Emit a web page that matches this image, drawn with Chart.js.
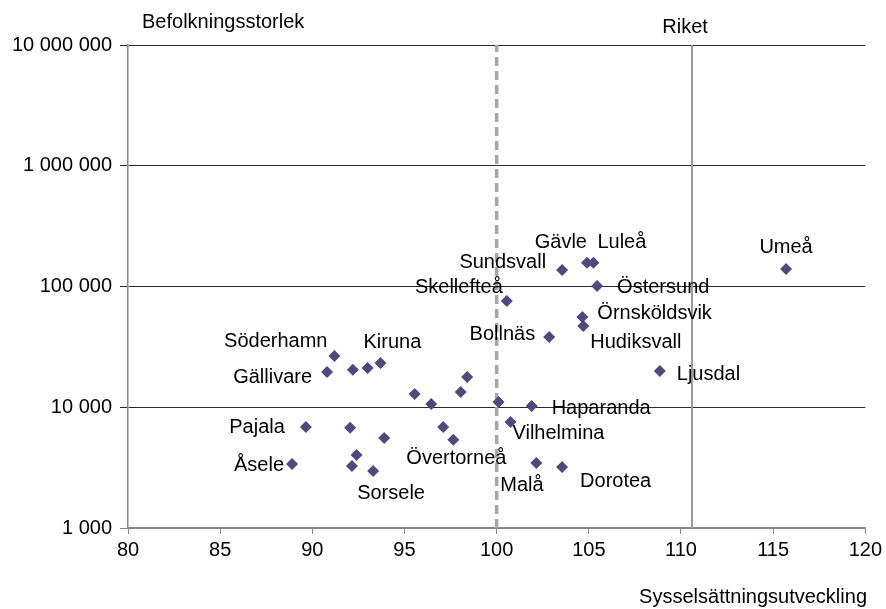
<!DOCTYPE html>
<html>
<head>
<meta charset="utf-8">
<script src="https://cdn.jsdelivr.net/npm/chart.js@4"></script>
<style>
  html, body { margin: 0; padding: 0; background: #fff; }
  #c { display: block; }
</style>
</head>
<body>
<canvas id="c" width="886" height="609"></canvas>
<script>
/* ── Data: employment development (x) vs population (y) ── */
const towns = ['Umeå', 'Sundsvall', 'Gävle', 'Luleå', 'Östersund', 'Skellefteå', 'Örnsköldsvik', 'Hudiksvall',
  'Bollnäs', 'Ljusdal', 'Söderhamn', 'Gällivare', '', '', 'Kiruna', '', '', '', '', '', 'Haparanda', 'Vilhelmina',
  'Pajala', '', '', '', 'Övertorneå', 'Åsele', '', '', 'Sorsele', 'Malå', 'Dorotea'];
const jobGrowth = [115.7, 103.55, 104.9, 105.25, 105.45, 100.55, 104.65, 104.7, 102.85, 108.85, 91.2, 90.8, 92.2, 93.0,
  93.7, 95.55, 96.45, 98.4, 98.05, 100.1, 101.9, 100.75, 89.65, 92.05, 93.9, 97.1, 97.65, 88.9, 92.4, 92.15, 93.3,
  102.15, 103.55];
const population = [139600, 137000, 157000, 157000, 101000, 76000, 55900, 47100, 38200, 19950, 26560, 19600, 20400,
  21100, 23200, 12860, 10640, 17800, 13370, 11050, 10240, 7550, 6870, 6760, 5560, 6870, 5370, 3390, 4030, 3260, 2960,
  3450, 3200];

const yTicks = [1000, 10000, 100000, 1000000, 10000000];
const xMin = 80, xMax = 120, xStep = 5;
const refX = 100;      // dashed reference line
const riketX = 110.6;  // national average

/* label placement: [point index, dx, dy, align] */
const labelPos = [
  [0, 0, -22, 'center'], [1, -16, -8, 'right'], [2, 0, -20, 'right'], [3, 4, -20, 'left'],
  [4, 20, 2, 'left'], [5, -4, -13, 'right'], [6, 15, -4, 'left'], [7, 7, 17, 'left'],
  [8, -14, -2, 'right'], [9, 17, 3, 'left'], [10, -7, -15, 'right'], [11, -15, 6, 'right'],
  [14, -17, -21, 'left'], [20, 20, 2, 'left'], [21, 2, 11, 'left'], [22, -21, 1, 'right'],
  [26, -47, 19, 'left'], [27, -8, 2, 'right'], [30, -16, 22, 'left'], [31, -36, 22, 'left'],
  [32, 18, 14, 'left'],
];

const FONT = 'Arial, "Liberation Sans", sans-serif';
Chart.defaults.font.family = FONT;
Chart.defaults.font.size = 20;
Chart.defaults.color = '#000';

const fmt = v => String(v).replace(/\B(?=(\d{3})+(?!\d))/g, ' ');

/* ── Text overlay: axis captions + point labels ── */
const textPlugin = {
  id: 'texts',
  afterDatasetsDraw(chart) {
    const ctx = chart.ctx;
    const xs = chart.scales.x;
    ctx.save();
    ctx.fillStyle = '#000';
    ctx.font = '20px ' + FONT;
    ctx.textBaseline = 'middle';

    ctx.textAlign = 'left';
    ctx.fillText('Befolkningsstorlek', 142, 22);
    ctx.textAlign = 'center';
    ctx.fillText('Riket', xs.getPixelForValue(riketX) - 7, 27);
    ctx.textAlign = 'right';
    ctx.fillText('Sysselsättningsutveckling', 867, 597);

    const pts = chart.getDatasetMeta(0).data;
    labelPos.forEach(([i, dx, dy, align]) => {
      ctx.textAlign = align;
      ctx.fillText(towns[i], pts[i].x + dx, pts[i].y + dy);
    });
    ctx.restore();
  }
};

new Chart(document.getElementById('c'), {
  type: 'scatter',
  data: {
    datasets: [
      {
        label: 'Kommuner',
        data: jobGrowth.map((x, i) => ({ x, y: population[i] })),
        pointStyle: 'rectRot',
        pointRadius: 6,
        pointHoverRadius: 6,
        backgroundColor: '#4E4A7E',
        borderColor: '#4E4A7E',
        borderWidth: 0,
        order: 0,
      },
      {
        label: 'ref',
        type: 'line',
        data: [{ x: refX, y: yTicks[0] }, { x: refX, y: yTicks[yTicks.length - 1] }],
        borderColor: '#a6a6a6',
        borderWidth: 3.5,
        borderDash: [9, 5],
        pointRadius: 0,
        order: 2,
      },
      {
        label: 'Riket',
        type: 'line',
        data: [{ x: riketX, y: yTicks[0] }, { x: riketX, y: yTicks[yTicks.length - 1] }],
        borderColor: '#999',
        borderWidth: 2,
        pointRadius: 0,
        order: 2,
      },
    ]
  },
  options: {
    responsive: false,
    animation: false,
    layout: { autoPadding: false, padding: { top: 45, right: 20, left: 0, bottom: 0 } },
    plugins: { legend: { display: false }, tooltip: { enabled: false } },
    scales: {
      x: {
        type: 'linear',
        min: xMin, max: xMax,
        ticks: { stepSize: xStep, padding: 4, maxRotation: 0 },
        grid: { drawOnChartArea: false, tickLength: 6, color: '#888' },
        border: { color: '#888', width: 1.5 },
        afterFit: s => { s.height = 81; },
      },
      y: {
        type: 'logarithmic',
        min: yTicks[0], max: yTicks[yTicks.length - 1],
        afterBuildTicks: s => { s.ticks = yTicks.map(v => ({ value: v })); },
        ticks: { callback: v => fmt(v), padding: 8 },
        grid: {
          tickLength: 8,
          color: c => (c.tick && c.tick.value === yTicks[0]) ? '#888' : '#2a2a2a',
          lineWidth: 1,
        },
        border: { color: '#888', width: 1.5 },
        afterFit: s => { s.width = 128; },
      }
    }
  },
  plugins: [textPlugin]
});
</script>
</body>
</html>
